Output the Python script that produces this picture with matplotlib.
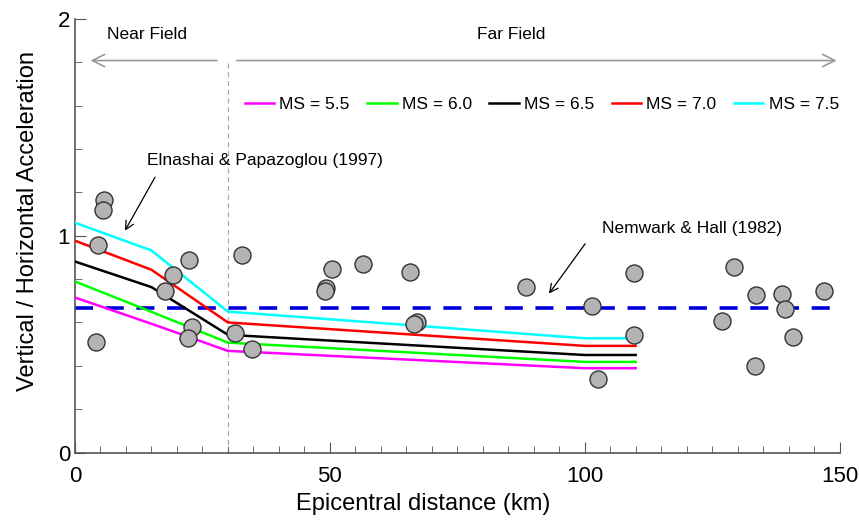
import numpy as np
import matplotlib
matplotlib.use("Agg")
import matplotlib.pyplot as plt

plt.rcParams['font.family'] = ['Liberation Sans', 'DejaVu Sans']

# model curves (Elnashai & Papazoglou 1997)
dist = [0, 15, 30, 100, 110]
magnitudes = ["MS = 5.5", "MS = 6.0", "MS = 6.5", "MS = 7.0", "MS = 7.5"]
ratio_55 = [0.715, 0.594, 0.469, 0.389, 0.389]
ratio_60 = [0.789, 0.649, 0.507, 0.418, 0.418]
ratio_65 = [0.881, 0.763, 0.543, 0.450, 0.450]
ratio_70 = [0.977, 0.843, 0.600, 0.492, 0.492]
ratio_75 = [1.060, 0.932, 0.650, 0.527, 0.527]
line_colors = ["magenta", "lime", "black", "red", "cyan"]

# Nemwark & Hall (1982)
nh_ratio = 2.0 / 3.0

# recorded data
obs_dist = [5.6, 5.4, 4.6, 4.1, 22.4, 19.2, 17.7, 23.0, 22.1, 32.7, 31.4, 34.7,
            50.5, 49.3, 49.0, 56.5, 65.8, 67.1, 66.5, 88.4, 109.6, 101.5, 109.6,
            102.6, 129.3, 133.6, 138.8, 147.0, 139.3, 126.9, 140.8, 133.4]
obs_ratio = [1.166, 1.117, 0.958, 0.512, 0.886, 0.817, 0.747, 0.581, 0.530, 0.912,
             0.551, 0.477, 0.848, 0.758, 0.746, 0.871, 0.834, 0.604, 0.592, 0.763,
             0.829, 0.677, 0.544, 0.341, 0.858, 0.727, 0.732, 0.747, 0.661, 0.607,
             0.532, 0.401]


def main():
    fig = plt.figure(figsize=[8.59, 5.25], dpi=100)
    ax = fig.add_axes([0.0873, 0.138, 0.890, 0.826])

    curves = [ratio_55, ratio_60, ratio_65, ratio_70, ratio_75]
    for lab, vals, c in zip(magnitudes, curves, line_colors):
        ax.plot(dist, vals, color=c, lw=1.8, label=lab, zorder=3)

    ax.plot([0, 150], [nh_ratio, nh_ratio], color="#0000dd", lw=2.6,
            ls=(0, (5, 3.5)), zorder=2)

    ax.scatter(obs_dist, obs_ratio, s=150, facecolor="#b4b4b4", edgecolor="#333333",
               linewidths=1.0, zorder=4)

    # near / far field markers
    ax.plot([30, 30], [0, 1.80], color="#aaaaaa", lw=0.9, ls=(0, (4, 3)), zorder=1)
    arrow_kw = dict(arrowstyle="->", color="#999999", lw=1.2, mutation_scale=22)
    ax.annotate("", xy=(2.5, 1.808), xytext=(28.4, 1.808), arrowprops=arrow_kw)
    ax.annotate("", xy=(150, 1.808), xytext=(31.2, 1.808), arrowprops=arrow_kw,
                annotation_clip=False)
    ax.text(14.1, 1.928, "Near Field", ha="center", va="center", fontsize=12.5)
    ax.text(85.6, 1.928, "Far Field", ha="center", va="center", fontsize=12.5)

    # labels with pointer arrows
    pointer = dict(arrowstyle="->", color="black", lw=0.9, mutation_scale=15,
                   shrinkA=0, shrinkB=0)
    ax.text(37.3, 1.346, "Elnashai & Papazoglou (1997)", ha="center", va="center",
            fontsize=12.5)
    ax.annotate("", xy=(9.8, 1.023), xytext=(15.7, 1.27), arrowprops=pointer)
    ax.text(121.0, 1.032, "Nemwark & Hall (1982)", ha="center", va="center",
            fontsize=12.5)
    ax.annotate("", xy=(93.0, 0.733), xytext=(100.1, 0.963), arrowprops=pointer)

    ax.legend(loc="center", bbox_to_anchor=(91.6, 1.605), bbox_transform=ax.transData,
              ncol=5, frameon=False, fontsize=12.5, handlelength=1.7,
              handletextpad=0.3, columnspacing=1.0)

    ax.set_xlim(0, 150)
    ax.set_ylim(0, 2)
    ax.set_xticks([0, 50, 100, 150])
    ax.set_xticks(np.arange(0, 151, 5), minor=True)
    ax.set_yticks([0, 1, 2])
    ax.set_yticks(np.arange(0, 2.01, 0.2), minor=True)
    ax.tick_params(which="both", direction="in", color="#555555", labelsize=16)
    ax.tick_params(which="major", length=8)
    ax.tick_params(which="minor", length=5)
    ax.tick_params(axis="x", which="major", pad=10)
    for side in ["top", "right"]:
        ax.spines[side].set_visible(False)
    for side in ["left", "bottom"]:
        ax.spines[side].set_color("#555555")
        ax.spines[side].set_linewidth(1.2)

    ax.set_xlabel("Epicentral distance (km)", fontsize=17)
    ax.set_ylabel("Vertical / Horizontal Acceleration", fontsize=17)
    ax.xaxis.set_label_coords(0.456, -0.094)
    ax.yaxis.set_label_coords(-0.047, 0.535)

    fig.savefig("out.png", dpi=100)


if __name__ == "__main__":
    main()
